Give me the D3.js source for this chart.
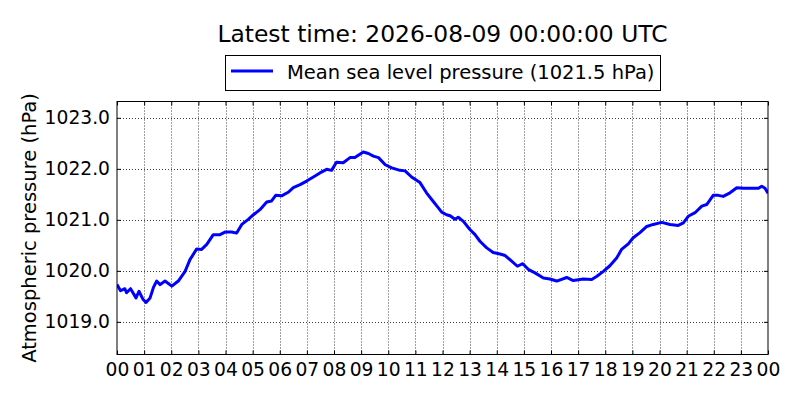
<!DOCTYPE html>
<html><head><meta charset="utf-8">
<script src="https://cdn.jsdelivr.net/npm/d3@7"></script>
<style>
body{margin:0;background:#fff;}
svg{display:block;font-family:"DejaVu Sans",sans-serif;}
</style></head>
<body><svg id="c" width="800" height="400"></svg>
<script>
const titleText = "Latest time: 2026-08-09 00:00:00 UTC";
const seriesLabel = "Mean sea level pressure (1021.5 hPa)";
const yLabel = "Atmospheric pressure (hPa)";
const startTime = Date.UTC(2026, 7, 8, 0, 0, 0);
const hours = [0,0.13,0.29,0.35,0.5,0.7,0.81,0.95,1.07,1.22,1.34,1.46,1.59,1.77,2.02,2.26,2.51,2.69,2.94,3.12,3.31,3.55,3.8,3.98,4.23,4.41,4.6,4.84,5.03,5.27,5.52,5.7,5.85,6.07,6.31,6.5,6.75,6.99,7.24,7.48,7.73,7.91,8.09,8.34,8.59,8.77,9.08,9.27,9.45,9.64,9.89,10.13,10.43,10.62,10.86,11.17,11.41,11.66,11.84,11.97,12.15,12.28,12.46,12.58,12.77,13.01,13.2,13.38,13.63,13.87,14.12,14.31,14.55,14.76,14.96,15.16,15.41,15.72,15.96,16.21,16.58,16.82,17.19,17.5,17.68,17.93,18.17,18.42,18.6,18.85,19.03,19.28,19.53,19.77,20.08,20.39,20.69,20.88,21.06,21.31,21.56,21.74,21.98,22.17,22.35,22.6,22.85,23.09,23.4,23.65,23.77,23.89,24];
const pressure = [1019.73,1019.61,1019.65,1019.57,1019.65,1019.47,1019.60,1019.45,1019.38,1019.47,1019.67,1019.80,1019.73,1019.80,1019.70,1019.80,1019.99,1020.22,1020.43,1020.42,1020.52,1020.71,1020.71,1020.76,1020.76,1020.74,1020.91,1021.01,1021.10,1021.20,1021.35,1021.37,1021.48,1021.47,1021.54,1021.63,1021.69,1021.76,1021.84,1021.92,1021.99,1021.97,1022.13,1022.12,1022.22,1022.22,1022.33,1022.30,1022.25,1022.22,1022.08,1022.02,1021.97,1021.96,1021.84,1021.73,1021.53,1021.36,1021.24,1021.15,1021.10,1021.08,1021.01,1021.05,1020.97,1020.81,1020.71,1020.58,1020.45,1020.36,1020.33,1020.30,1020.19,1020.09,1020.14,1020.03,1019.96,1019.86,1019.84,1019.80,1019.87,1019.81,1019.84,1019.83,1019.89,1019.99,1020.10,1020.25,1020.42,1020.53,1020.65,1020.75,1020.87,1020.91,1020.95,1020.91,1020.89,1020.94,1021.07,1021.14,1021.27,1021.30,1021.48,1021.48,1021.46,1021.53,1021.63,1021.62,1021.62,1021.62,1021.66,1021.62,1021.52];
const yTicks = [1019, 1020, 1021, 1022, 1023];
const yDomain = [1018.36, 1023.32];

const svg = d3.select("#c");
const L = 117, R = 768, T = 101.5, B = 354.5;
const x = d3.scaleUtc().domain([new Date(startTime), new Date(startTime + 24*3600e3)]).range([L, R]);
const y = d3.scaleLinear().domain(yDomain).range([B, T]);
const xTicks = d3.utcHour.every(1).range(new Date(startTime), new Date(startTime + 24*3600e3 + 1));
const data = hours.map((h, i) => ({t: new Date(startTime + h*3600e3), v: pressure[i]}));

// grid
const grid = svg.append("g").attr("stroke", "#000").attr("stroke-width", 1).attr("stroke-dasharray", "1,2").attr("opacity", 0.75);
grid.selectAll(".gx").data(xTicks.slice(1, -1)).join("line")
  .attr("x1", d => Math.round(x(d)) + 0.5).attr("x2", d => Math.round(x(d)) + 0.5).attr("y1", T).attr("y2", B);
grid.selectAll(".gy").data(yTicks).join("line")
  .attr("y1", d => Math.round(y(d)) + 0.5).attr("y2", d => Math.round(y(d)) + 0.5).attr("x1", L).attr("x2", R);

// line
const clip = svg.append("clipPath").attr("id", "clp").append("rect").attr("x", L).attr("y", T).attr("width", R - L).attr("height", B - T);
svg.append("path").datum(data).attr("clip-path", "url(#clp)")
  .attr("fill", "none").attr("stroke", "#0000ff").attr("stroke-width", 3).attr("stroke-linejoin", "round")
  .attr("d", d3.line().x(d => x(d.t)).y(d => y(d.v)));

// axes with inside ticks
const tl = 4;
const xb = svg.append("g").attr("transform", `translate(0,${B})`)
  .call(d3.axisBottom(x).tickValues(xTicks).tickFormat(d3.utcFormat("%H")).tickSize(-tl).tickPadding(8));
const xt = svg.append("g").attr("transform", `translate(0,${T})`)
  .call(d3.axisTop(x).tickValues(xTicks).tickFormat("").tickSize(-tl));
const yl = svg.append("g").attr("transform", `translate(${L},0)`)
  .call(d3.axisLeft(y).tickValues(yTicks).tickFormat(d3.format(".1f")).tickSize(-tl).tickPadding(7));
const yr = svg.append("g").attr("transform", `translate(${R},0)`)
  .call(d3.axisRight(y).tickValues(yTicks).tickFormat("").tickSize(-tl));
[xb, xt, yl, yr].forEach(g => {
  g.select(".domain").remove();
  g.selectAll("line").attr("stroke", "#000");
  g.selectAll("text").attr("fill", "#000").attr("font-size", 18.7).attr("font-family", "DejaVu Sans");
});
xb.selectAll("text").attr("dy", "0.71em");
svg.append("rect").attr("x", L).attr("y", T).attr("width", R - L).attr("height", B - T)
  .attr("fill", "none").attr("stroke", "#000").attr("stroke-width", 1);

// y label
svg.append("text").attr("transform", `translate(36,${(T + B) / 2}) rotate(-90)`)
  .attr("text-anchor", "middle").attr("font-size", 19.5).attr("fill", "#000").text(yLabel);

// title
svg.append("text").attr("x", (L + R) / 2).attr("y", 42).attr("text-anchor", "middle")
  .attr("font-size", 23.4).attr("fill", "#000").text(titleText);

// legend
svg.append("rect").attr("x", 225.5).attr("y", 55.5).attr("width", 435).attr("height", 35)
  .attr("fill", "#fff").attr("stroke", "#000").attr("stroke-width", 1);
svg.append("line").attr("x1", 231).attr("x2", 273).attr("y1", 71).attr("y2", 71)
  .attr("stroke", "#0000ff").attr("stroke-width", 3);
svg.append("text").attr("x", 287).attr("y", 79).attr("font-size", 19.5).attr("fill", "#000").text(seriesLabel);
</script></body></html>
